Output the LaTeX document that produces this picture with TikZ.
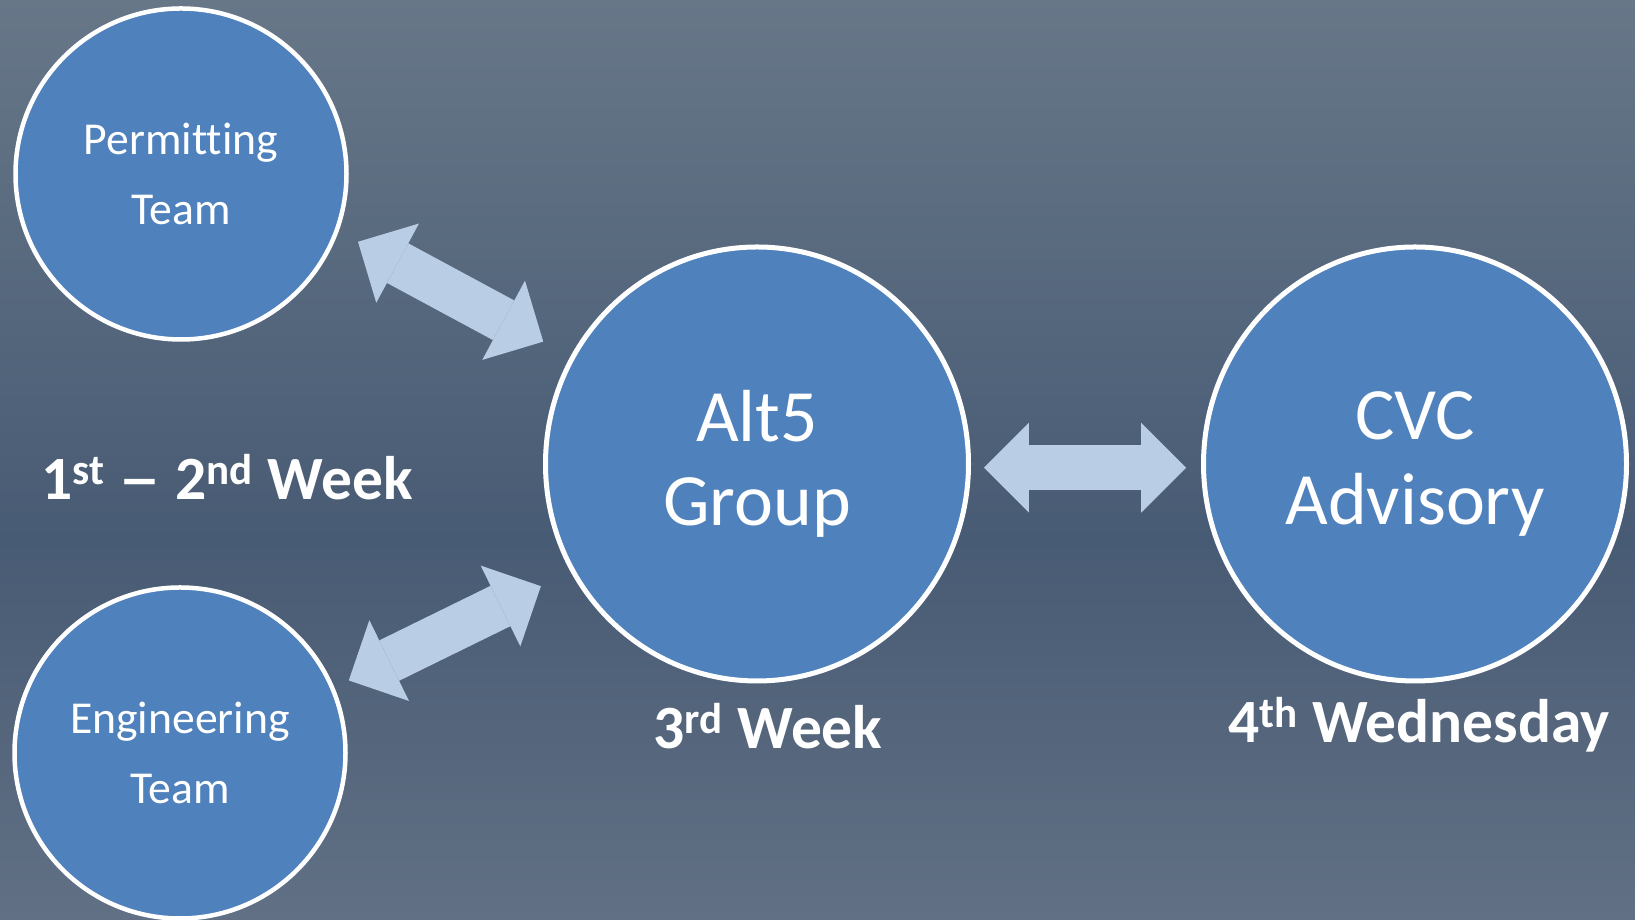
\documentclass[tikz,border=0pt]{standalone}
\usepackage{fontspec}
\setmainfont{Carlito}[Ligatures=NoCommon]
\usetikzlibrary{arrows.meta, shapes.geometric}

\definecolor{bgtop}{RGB}{103,119,136}
\definecolor{bgmid}{RGB}{72,91,116}
\definecolor{bgbot}{RGB}{97,112,132}
\definecolor{discfill}{RGB}{79,129,189}
\definecolor{linkfill}{RGB}{185,205,229}

\begin{document}
\begin{tikzpicture}[
  team/.style={circle, draw=white, line width=0.09cm, fill=discfill, minimum size=6.62cm, align=center, text=white, font=\fontsize{26}{40}\selectfont},
  hub/.style={ellipse, draw=white, line width=0.1cm, fill=discfill, minimum width=8.46cm, minimum height=8.68cm, align=center, text=white, font=\fontsize{42}{48}\selectfont},
  when/.style={text=white, anchor=base, font=\bfseries\fontsize{35}{40}\selectfont},
  link/.style={draw=linkfill, line width=0.9cm, {Triangle[length=0.9cm, width=1.8cm, line width=0pt]}-{Triangle[length=0.9cm, width=1.8cm, line width=0pt]}}
]
  % backdrop, darkest a little below the middle
  \shade[top color=bgtop, bottom color=bgmid] (0,7.6) rectangle (32.7,18.4);
  \shade[top color=bgmid, bottom color=bgbot] (0,0) rectangle (32.7,7.61);
  \useasboundingbox (0,0) rectangle (32.7,18.4);

  \node[team] (permit) at (3.62,14.92) {Permitting\\Team};
  \node[team] (engin) at (3.60,3.34) {Engineering\\Team};
  \node[hub] (alt) at (15.14,9.12) {Alt5\\Group};
  \node[hub] (cvc) at (28.30,9.12) {CVC\\Advisory};

  \node[when] (wk12) at (4.54,8.4) {1\textsuperscript{st} \scalebox{1.4}[1]{--} 2\textsuperscript{nd} Week};
  \node[when] (wk3) at (15.36,3.42) {3\textsuperscript{rd} Week};
  \node[when] (wed) at (28.38,3.54) {4\textsuperscript{th} Wednesday};

  \draw[link, shorten <=0.44cm, shorten >=0.62cm] (permit.-20) -- (alt.150);
  \draw[link, shorten <=0.32cm, shorten >=0.66cm] (engin.23) -- (alt.210);
  \draw[link, shorten <=0.26cm, shorten >=0.30cm] (alt.-1) -- (cvc.181);
\end{tikzpicture}
\end{document}
